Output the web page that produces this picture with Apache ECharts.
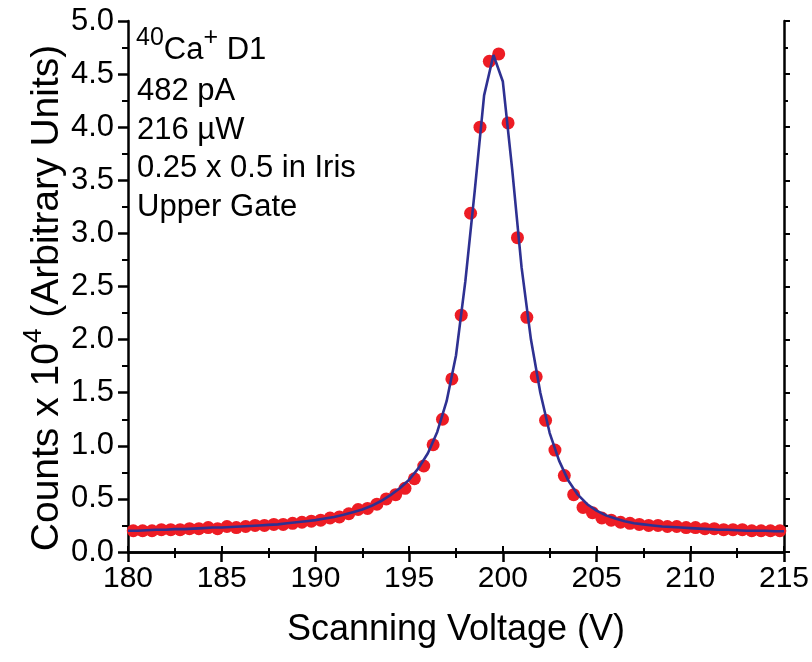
<!DOCTYPE html>
<html>
<head>
<meta charset="utf-8">
<script src="https://cdn.jsdelivr.net/npm/echarts@6/dist/echarts.min.js"></script>
<style>html,body{margin:0;padding:0;background:#fff}#c{width:812px;height:662px}</style>
</head>
<body>
<div id="c"></div>
<script>
// Measured data points (Scanning Voltage V, Counts x 10^4)
const dataX = [180.28,180.78,181.28,181.78,182.28,182.78,183.28,183.78,184.28,184.78,
  185.28,185.78,186.28,186.78,187.28,187.78,188.28,188.78,189.28,189.78,
  190.28,190.78,191.28,191.78,192.28,192.78,193.28,193.78,194.28,194.78,
  195.28,195.78,196.28,196.78,197.28,197.78,198.28,198.78,199.28,199.78,
  200.28,200.78,201.28,201.78,202.28,202.78,203.28,203.78,204.28,204.78,
  205.28,205.78,206.28,206.78,207.28,207.78,208.28,208.78,209.28,209.78,
  210.28,210.78,211.28,211.78,212.28,212.78,213.28,213.78,214.28,214.78];
const dataY = [0.20,0.20,0.20,0.21,0.21,0.21,0.22,0.22,0.23,0.22,
  0.24,0.23,0.24,0.25,0.25,0.26,0.26,0.27,0.28,0.29,
  0.30,0.32,0.33,0.36,0.40,0.41,0.45,0.50,0.54,0.60,
  0.69,0.81,1.01,1.25,1.63,2.23,3.19,4.00,4.62,4.69,
  4.04,2.96,2.21,1.65,1.24,0.96,0.72,0.54,0.42,0.37,
  0.32,0.30,0.28,0.27,0.26,0.25,0.25,0.24,0.24,0.23,
  0.23,0.22,0.22,0.21,0.21,0.21,0.20,0.20,0.20,0.20];
// Fit curve
const fitX = [180,180.5,181,181.5,182,182.5,183,183.5,184,184.5,
  185,185.5,186,186.5,187,187.5,188,188.5,189,189.5,
  190,190.5,191,191.5,192,192.5,193,193.5,194,194.5,
  195,195.5,196,196.5,197,197.5,198,198.5,199,199.5,
  200,200.5,201,201.5,202,202.5,203,203.5,204,204.5,
  205,205.5,206,206.5,207,207.5,208,208.5,209,209.5,
  210,210.5,211,211.5,212,212.5,213,213.5,214,214.5,215];
const fitY = [0.20,0.20,0.205,0.21,0.21,0.215,0.215,0.22,0.225,0.23,
  0.23,0.235,0.24,0.245,0.25,0.255,0.26,0.27,0.28,0.29,
  0.30,0.315,0.33,0.35,0.375,0.40,0.435,0.48,0.535,0.60,
  0.68,0.79,0.93,1.13,1.42,1.85,2.55,3.40,4.30,4.68,
  4.43,3.60,2.68,2.00,1.50,1.12,0.86,0.67,0.54,0.45,
  0.39,0.345,0.315,0.29,0.27,0.26,0.25,0.24,0.235,0.23,
  0.225,0.22,0.215,0.21,0.21,0.205,0.20,0.20,0.20,0.195,0.195];
const xTitle = 'Scanning Voltage (V)';
const annoLines = ['482 pA', '216 µW', '0.25 x 0.5 in Iris', 'Upper Gate'];

const FONT = 'Liberation Sans, Arial, sans-serif';
const scatterData = dataX.map((x, i) => [x, dataY[i]]);
const fitData = fitX.map((x, i) => [x, fitY[i]]);

const axisLine = {show: true, lineStyle: {color: '#000', width: 2.5}};
const chart = echarts.init(document.getElementById('c'));
chart.setOption({
  animation: false,
  backgroundColor: '#fff',
  grid: {left: 128, right: 28, top: 21, bottom: 110},
  xAxis: [{
    type: 'value', min: 180, max: 215, interval: 5,
    axisLine: axisLine,
    axisTick: {show: true, inside: false, length: 10, lineStyle: {width: 2.5, color: '#000'}},
    minorTick: {show: true, splitNumber: 2, length: 6, lineStyle: {width: 2, color: '#000'}},
    splitLine: {show: false},
    axisLabel: {color: '#000', fontSize: 30, fontFamily: FONT, margin: 12},
    name: xTitle, nameLocation: 'middle', nameGap: 60,
    nameTextStyle: {color: '#000', fontSize: 36, fontFamily: FONT}
  }, {
    type: 'value', position: 'top', min: 180, max: 215, interval: 5,
    axisLine: axisLine,
    axisTick: {show: true, inside: false, length: 6, lineStyle: {width: 2, color: '#000'}},
    minorTick: {show: true, splitNumber: 2, length: 4, lineStyle: {width: 2, color: '#000'}},
    splitLine: {show: false}, axisLabel: {show: false}
  }],
  yAxis: [{
    type: 'value', min: 0, max: 5, interval: 0.5,
    axisLine: axisLine,
    axisTick: {show: true, inside: false, length: 10, lineStyle: {width: 2.5, color: '#000'}},
    minorTick: {show: true, splitNumber: 2, length: 6, lineStyle: {width: 2, color: '#000'}},
    splitLine: {show: false},
    axisLabel: {color: '#000', fontSize: 31, fontFamily: FONT, margin: 14,
      formatter: v => v.toFixed(1)}
  }, {
    type: 'value', position: 'right', min: 0, max: 5, interval: 0.5,
    axisLine: axisLine,
    axisTick: {show: true, inside: false, length: 6, lineStyle: {width: 2, color: '#000'}},
    minorTick: {show: true, splitNumber: 2, length: 4, lineStyle: {width: 2, color: '#000'}},
    splitLine: {show: false}, axisLabel: {show: false}
  }],
  series: [{
    type: 'scatter', data: scatterData, symbol: 'circle', symbolSize: 13,
    itemStyle: {color: '#ed1c24', opacity: 1}, z: 2
  }, {
    type: 'line', data: fitData, showSymbol: false, symbol: 'none', smooth: false,
    lineStyle: {color: '#2e3192', width: 2.6}, z: 3
  }],
  graphic: [{
    type: 'text', x: 44, y: 298, rotation: Math.PI / 2, z: 10,
    style: {
      text: '{n|Counts x 10}{s|4}{n| (Arbitrary Units)}',
      align: 'center', verticalAlign: 'middle',
      rich: {
        n: {fontSize: 39, fontFamily: FONT, fill: '#000', lineHeight: 46, verticalAlign: 'bottom'},
        s: {fontSize: 26, fontFamily: FONT, fill: '#000', lineHeight: 46, verticalAlign: 'top'}
      }
    }
  }, {
    type: 'text', left: 136, top: 26, z: 10,
    style: {
      text: '{s|40}{n|Ca}{s|+}{n| D1}',
      rich: {
        n: {fontSize: 31, fontFamily: FONT, fill: '#000', lineHeight: 40, verticalAlign: 'bottom'},
        s: {fontSize: 25, fontFamily: FONT, fill: '#000', lineHeight: 40, verticalAlign: 'top'}
      }
    }
  }].concat(annoLines.map((t, i) => ({
    type: 'text', left: 137, top: 76 + i * 38.5, z: 10,
    style: {text: t, fontSize: 31, fontFamily: FONT, fill: '#000'}
  })))
});
</script>
</body>
</html>
